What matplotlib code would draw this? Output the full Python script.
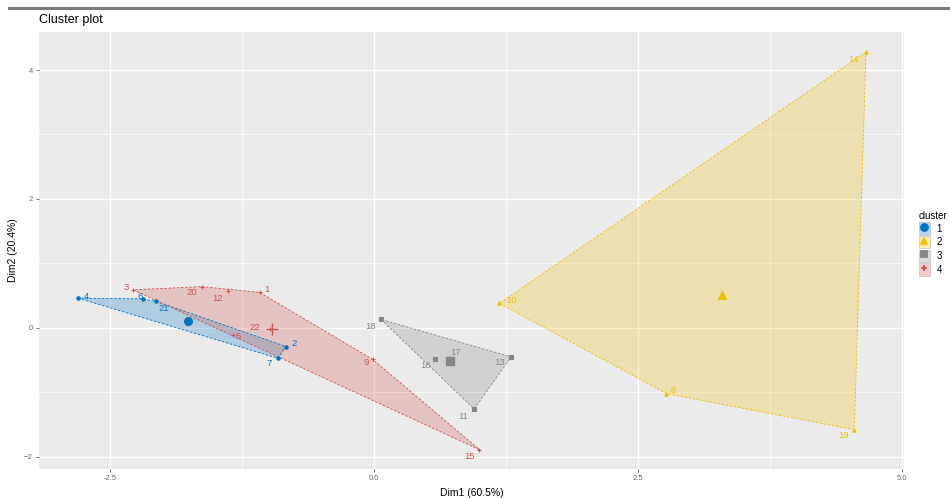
import matplotlib
matplotlib.use("Agg")
import matplotlib.pyplot as plt
import numpy as np
from matplotlib.patches import Patch
from matplotlib.lines import Line2D

plt.rcParams['font.family'] = ['Liberation Sans', 'DejaVu Sans']

# data
names = ["1", "2", "3", "4", "5", "6", "7", "8", "9", "10", "11",
         "12", "13", "14", "15", "16", "17", "18", "19", "20", "21", "22"]
dim1 = [-1.08, -0.83, -2.28, -2.80, -1.33, -2.19, -0.91, 2.77, -0.01, 1.19, 0.95,
        -1.38, 1.30, 4.66, 1.00, 0.58, 0.72, 0.07, 4.55, -1.63, -2.06, -0.98]
dim2 = [0.55, -0.29, 0.59, 0.46, -0.11, 0.45, -0.47, -1.02, -0.49, 0.38, -1.26,
        0.57, -0.45, 4.28, -1.89, -0.49, -0.48, 0.13, -1.58, 0.64, 0.41, -0.02]
cluster = [4, 1, 4, 1, 4, 1, 1, 2, 4, 2, 3,
           4, 3, 2, 4, 3, 3, 3, 2, 4, 1, 4]

cluster_ids = [1, 2, 3, 4]
colors = {1: "#0073C2", 2: "#EFC000", 3: "#868686", 4: "#CD534C"}
markers = {1: "o", 2: "^", 3: "s", 4: "+"}

# label offsets in pixels (dx, dy)
label_off = {"1": (7, 3), "2": (8, 3), "3": (-7, 2), "4": (8, 2), "5": (5, -2),
             "6": (-2, 2), "7": (-9, -5), "8": (7, 3), "9": (-7, -3), "10": (12, 3),
             "11": (-11, -7), "12": (-10, -7), "13": (-12, -6), "14": (-12, -8),
             "15": (-10, -7), "16": (-10, -6), "17": (6, 6), "18": (-11, -7),
             "19": (-11, -6), "20": (-10, -6), "21": (8, -7), "22": (-15, 2)}


def hull(pts):
    pts = sorted(set(pts))
    if len(pts) < 3:
        return pts

    def cross(o, a, b):
        return (a[0] - o[0]) * (b[1] - o[1]) - (a[1] - o[1]) * (b[0] - o[0])
    lower = []
    for p in pts:
        while len(lower) >= 2 and cross(lower[-2], lower[-1], p) <= 0:
            lower.pop()
        lower.append(p)
    upper = []
    for p in reversed(pts):
        while len(upper) >= 2 and cross(upper[-2], upper[-1], p) <= 0:
            upper.pop()
        upper.append(p)
    return lower[:-1] + upper[:-1]


x = np.array(dim1)
y = np.array(dim2)
cl = np.array(cluster)

fig = plt.figure(figsize=(9.5, 4.98), dpi=100)
ax = fig.add_axes([39 / 950, 1 - 469 / 498, (904 - 39) / 950, (469 - 32) / 498])
ax.set_facecolor("#EBEBEB")
ax.set_xlim(-3.17, 5.02)
ax.set_ylim(-2.19, 4.59)

ax.set_xticks([-2.5, 0.0, 2.5, 5.0])
ax.set_xticklabels(["-2.5", "0.0", "2.5", "5.0"])
ax.set_yticks([-2, 0, 2, 4])
ax.set_xticks([-1.25, 1.25, 3.75], minor=True)
ax.set_yticks([-1, 1, 3], minor=True)
ax.grid(which="major", color="white", lw=1.0)
ax.grid(which="minor", color="white", lw=0.5)
ax.set_axisbelow(True)
for s in ax.spines.values():
    s.set_visible(False)
ax.tick_params(which="major", length=2.5, width=0.6, color="#555555",
               labelsize=5.5, labelcolor="#666666", pad=2)
ax.tick_params(which="minor", length=0)

for c in cluster_ids:
    m = cl == c
    pts = hull(list(zip(x[m], y[m])))
    ax.fill([p[0] for p in pts], [p[1] for p in pts], color=colors[c], alpha=0.25, lw=0)
    ax.plot([p[0] for p in pts] + [pts[0][0]], [p[1] for p in pts] + [pts[0][1]],
            color=colors[c], lw=0.6, ls=(0, (3, 2)))
    ax.scatter(x[m], y[m], marker=markers[c], color=colors[c], s=6, lw=0.8, zorder=3)
    ax.scatter([x[m].mean()], [y[m].mean()], marker=markers[c], color=colors[c],
               s=30 if c != 4 else 70, lw=1.0, zorder=3)

for n, xi, yi, c in zip(names, dim1, dim2, cluster):
    dx, dy = label_off[n]
    ax.annotate(n, (xi, yi), xytext=(dx, dy), textcoords="offset pixels",
                color=colors[c], fontsize=6.8, ha="center", va="center", zorder=4)

ax.set_xlabel("Dim1 (60.5%)", fontsize=7.5, labelpad=4)
ax.set_ylabel("Dim2 (20.4%)", fontsize=7.5, labelpad=4)
fig.text(39 / 950, 1 - 20 / 498, "Cluster plot", fontsize=9, va="center", ha="left")

# dark rule at the very top
fig.add_artist(Line2D([9 / 950, 1], [1 - 8.5 / 498, 1 - 8.5 / 498], color="#7a7a7a", lw=2.2))

handles = []
for c in cluster_ids:
    handles.append((Patch(facecolor=colors[c], alpha=0.3, edgecolor="#888888", lw=0.7),
                    Line2D([], [], marker=markers[c], color=colors[c], ls="",
                           markersize=5, mew=1.3)))
leg = ax.legend(handles, [str(c) for c in cluster_ids], title="cluster",
                loc="upper left", bbox_to_anchor=(919 / 950, 1 - 211 / 498),
                bbox_transform=fig.transFigure, frameon=False, fontsize=7,
                title_fontsize=7, handlelength=1.1, handleheight=1.55,
                labelspacing=0.15, handletextpad=0.7, borderaxespad=0, borderpad=0)
leg._legend_box.align = "left"

fig.savefig("out.png", dpi=100)
